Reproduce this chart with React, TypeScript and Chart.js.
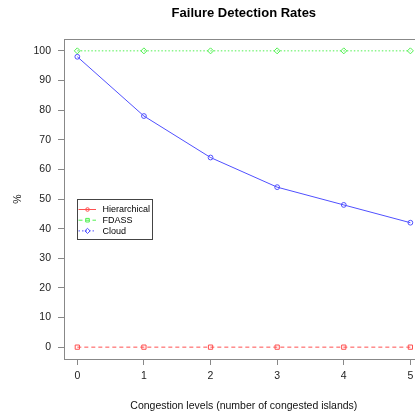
import React, { useEffect, useRef } from "react";
import { Chart, registerables } from "chart.js";

Chart.register(...registerables);

const congestionLevels = [0, 1, 2, 3, 4, 5];
const hierarchical = [0, 0, 0, 0, 0, 0];
const fdass = [100, 100, 100, 100, 100, 100];
const cloud = [98, 78, 64, 54, 48, 42];
const xTickValues = [0, 1, 2, 3, 4, 5];
const yTickValues = [0, 10, 20, 30, 40, 50, 60, 70, 80, 90, 100];
const seriesNames = ["Hierarchical", "FDASS", "Cloud"];
const chartTitle = "Failure Detection Rates";
const xTitle = "Congestion levels (number of congested islands)";
const yTitle = "%";

const FONT = "'Liberation Sans', Arial, sans-serif";
const W = 432;
const H = 415;

const RED = "#ff5050";
const GREEN = "#50f050";
const BLUE = "#5050ff";

type LegendEntry = { label: string; color: string; dash: number[]; marker: string };
const legendEntries: LegendEntry[] = [
  { label: seriesNames[0], color: RED, dash: [], marker: "circle" },
  { label: seriesNames[1], color: GREEN, dash: [4, 3], marker: "square" },
  { label: seriesNames[2], color: BLUE, dash: [1.5, 2], marker: "diamond" },
];

const framePlugin = {
  id: "frame",
  beforeDatasetsDraw(chart: any) {
    const { ctx, chartArea } = chart;
    ctx.save();
    ctx.strokeStyle = "#888888";
    ctx.lineWidth = 1;
    ctx.strokeRect(
      Math.round(chartArea.left) + 0.5,
      Math.round(chartArea.top) + 0.5,
      chartArea.right - chartArea.left,
      chartArea.bottom - chartArea.top
    );
    ctx.restore();
  },
};

const titlePlugin = {
  id: "rtitle",
  afterDraw(chart: any) {
    const { ctx, chartArea } = chart;
    ctx.save();
    ctx.fillStyle = "#000000";
    ctx.font = `bold 13px ${FONT}`;
    ctx.textAlign = "center";
    ctx.textBaseline = "middle";
    ctx.fillText(chartTitle, (chartArea.left + chartArea.right) / 2, 13);
    ctx.restore();
  },
};

const legendPlugin = {
  id: "rlegend",
  afterDraw(chart: any) {
    const { ctx, chartArea } = chart;
    const left = chartArea.left + 13.5;
    const top = chartArea.top + 160.5;
    const w = 75;
    const h = 40;
    ctx.save();
    ctx.fillStyle = "#ffffff";
    ctx.fillRect(left, top, w, h);
    ctx.strokeStyle = "#444444";
    ctx.lineWidth = 1;
    ctx.strokeRect(left, top, w, h);
    ctx.font = `9px ${FONT}`;
    ctx.textBaseline = "middle";
    ctx.textAlign = "left";
    legendEntries.forEach((e, i) => {
      const y = top + 10 + i * 10.7;
      ctx.strokeStyle = e.color;
      ctx.lineWidth = 1;
      ctx.setLineDash(e.dash);
      ctx.beginPath();
      ctx.moveTo(left + 1, y);
      ctx.lineTo(left + 18.5, y);
      ctx.stroke();
      ctx.setLineDash([]);
      const mx = left + 10;
      ctx.beginPath();
      if (e.marker === "circle") {
        ctx.arc(mx, y, 1.8, 0, Math.PI * 2);
      } else if (e.marker === "square") {
        ctx.rect(mx - 1.8, y - 1.8, 3.6, 3.6);
      } else {
        ctx.moveTo(mx, y - 2.6);
        ctx.lineTo(mx + 2.6, y);
        ctx.lineTo(mx, y + 2.6);
        ctx.lineTo(mx - 2.6, y);
        ctx.closePath();
      }
      ctx.stroke();
      ctx.fillStyle = "#000000";
      ctx.fillText(e.label, left + 25, y + 0.5);
    });
    ctx.restore();
  },
};

export default function App() {
  const ref = useRef<HTMLCanvasElement | null>(null);
  useEffect(() => {
    if (!ref.current) return;
    const toPts = (vals: number[]) => vals.map((v, i) => ({ x: congestionLevels[i], y: v }));
    const chart = new Chart(ref.current, {
      type: "line",
      data: {
        datasets: [
          {
            label: seriesNames[0],
            data: toPts(hierarchical),
            borderColor: RED,
            borderWidth: 1,
            borderDash: [4, 3],
            pointStyle: "rect",
            pointRadius: 3,
            pointBorderColor: RED,
            pointBackgroundColor: "rgba(0,0,0,0)",
            pointBorderWidth: 1,
            tension: 0,
          },
          {
            label: seriesNames[1],
            data: toPts(fdass),
            borderColor: GREEN,
            borderWidth: 1,
            borderDash: [1.5, 2],
            pointStyle: "rectRot",
            pointRadius: 3,
            pointBorderColor: GREEN,
            pointBackgroundColor: "rgba(0,0,0,0)",
            pointBorderWidth: 1,
            tension: 0,
          },
          {
            label: seriesNames[2],
            data: toPts(cloud),
            borderColor: BLUE,
            borderWidth: 1,
            pointStyle: "circle",
            pointRadius: 2.4,
            pointBorderColor: BLUE,
            pointBackgroundColor: "rgba(0,0,0,0)",
            pointBorderWidth: 1,
            tension: 0,
          },
        ],
      },
      options: {
        animation: false,
        responsive: false,
        devicePixelRatio: 1,
        layout: { padding: { top: 39, right: W - 423.7, left: 0, bottom: 0 } },
        plugins: {
          legend: { display: false },
          title: { display: false },
          tooltip: { enabled: false },
        },
        scales: {
          x: {
            type: "linear",
            min: -0.2,
            max: 5.2,
            afterBuildTicks: (axis: any) => {
              axis.ticks = xTickValues.map((v) => ({ value: v }));
            },
            afterFit: (axis: any) => {
              axis.height = 56;
            },
            ticks: {
              font: { family: FONT, size: 10.5 },
              color: "#222222",
              padding: 5,
              maxRotation: 0,
              autoSkip: false,
            },
            grid: {
              display: true,
              drawOnChartArea: false,
              drawTicks: true,
              tickLength: 6,
              color: "#888888",
            },
            border: { display: true, color: "#888888", width: 1 },
            title: {
              display: true,
              text: xTitle,
              font: { family: FONT, size: 10.5 },
              color: "#111111",
              padding: { top: 0, bottom: 3 },
            },
          },
          y: {
            type: "linear",
            min: -4,
            max: 104,
            afterBuildTicks: (axis: any) => {
              axis.ticks = yTickValues.map((v) => ({ value: v }));
            },
            afterFit: (axis: any) => {
              axis.width = 64;
            },
            ticks: {
              font: { family: FONT, size: 10.5 },
              color: "#222222",
              padding: 7,
              autoSkip: false,
            },
            grid: {
              display: true,
              drawOnChartArea: false,
              drawTicks: true,
              tickLength: 6,
              color: "#888888",
            },
            border: { display: true, color: "#888888", width: 1 },
            title: {
              display: true,
              text: yTitle,
              font: { family: FONT, size: 10.5 },
              color: "#111111",
              padding: { top: 12, bottom: 0 },
            },
          },
        },
      },
      plugins: [framePlugin, titlePlugin, legendPlugin],
    } as any);
    return () => chart.destroy();
  }, []);

  return (
    <div
      style={{
        position: "fixed",
        left: 0,
        top: 0,
        width: W,
        height: H,
        overflow: "hidden",
        background: "#ffffff",
      }}
    >
      <canvas ref={ref} width={W} height={H} style={{ width: W, height: H, display: "block" }} />
    </div>
  );
}
